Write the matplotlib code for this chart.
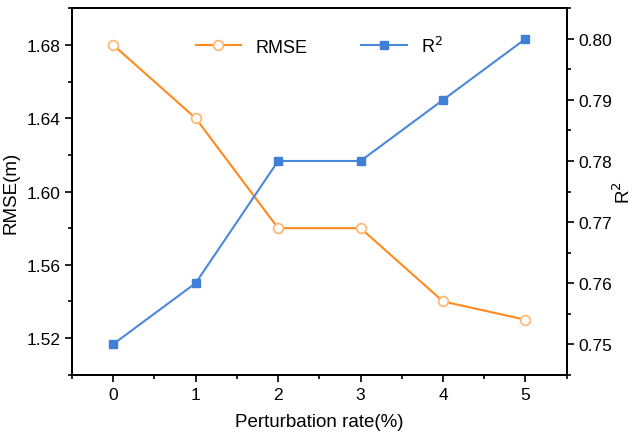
import matplotlib
matplotlib.use("Agg")
import matplotlib.pyplot as plt
from matplotlib.ticker import MultipleLocator, AutoMinorLocator

plt.rcParams['font.family'] = ['Liberation Sans', 'DejaVu Sans']

# dados
taxa = [0, 1, 2, 3, 4, 5]
rmse = [1.68, 1.64, 1.58, 1.58, 1.54, 1.53]
r2 = [0.75, 0.76, 0.78, 0.78, 0.79, 0.80]

cor_rmse = "#FF8A1C"
cor_r2 = "#4A88DA"

fig = plt.figure(figsize=(6.33, 4.35), dpi=100)
ax = fig.add_axes([0.1137, 0.1363, 0.7816, 0.8423])
ax2 = ax.twinx()

l1, = ax.plot(taxa, rmse, color=cor_rmse, lw=1.5, marker="o", ms=7,
              mfc="white", mec="#FFB877", mew=1.3, label="RMSE")
l2, = ax2.plot(taxa, r2, color=cor_r2, lw=1.5, marker="s", ms=6,
               mfc="#3F7FD6", mec="#3F7FD6", label="R$^2$")

ax.set_xlim(-0.5, 5.5)
ax.set_ylim(1.50, 1.70)
ax2.set_ylim(0.745, 0.805)

ax.xaxis.set_major_locator(MultipleLocator(1))
ax.xaxis.set_minor_locator(AutoMinorLocator(2))
ax.yaxis.set_major_locator(MultipleLocator(0.04))
ax.yaxis.set_minor_locator(AutoMinorLocator(2))
ax2.yaxis.set_major_locator(MultipleLocator(0.01))
ax2.yaxis.set_minor_locator(AutoMinorLocator(2))
ax.yaxis.set_major_formatter(matplotlib.ticker.FormatStrFormatter("%.2f"))
ax2.yaxis.set_major_formatter(matplotlib.ticker.FormatStrFormatter("%.2f"))

for a in (ax, ax2):
    a.tick_params(which="major", direction="out", length=5, width=1.2, labelsize=12.5)
    a.tick_params(which="minor", direction="out", length=3, width=1.2)
    for s in a.spines.values():
        s.set_linewidth(1.3)
ax.tick_params(axis="y", which="both", right=False)
ax.tick_params(axis="x", which="both", top=False)

ax.set_xlabel("Perturbation rate(%)", fontsize=13.5, labelpad=8)
ax.set_ylabel("RMSE(m)", fontsize=13.5, labelpad=5)
ax2.set_ylabel("R$^2$", fontsize=13.5, labelpad=0)

ax.legend(handles=[l1, l2], loc="upper center", ncol=2, frameon=False,
          fontsize=13, columnspacing=3.0, handlelength=2.5,
          bbox_to_anchor=(0.5, 0.97))

fig.savefig("out.png", dpi=100)
